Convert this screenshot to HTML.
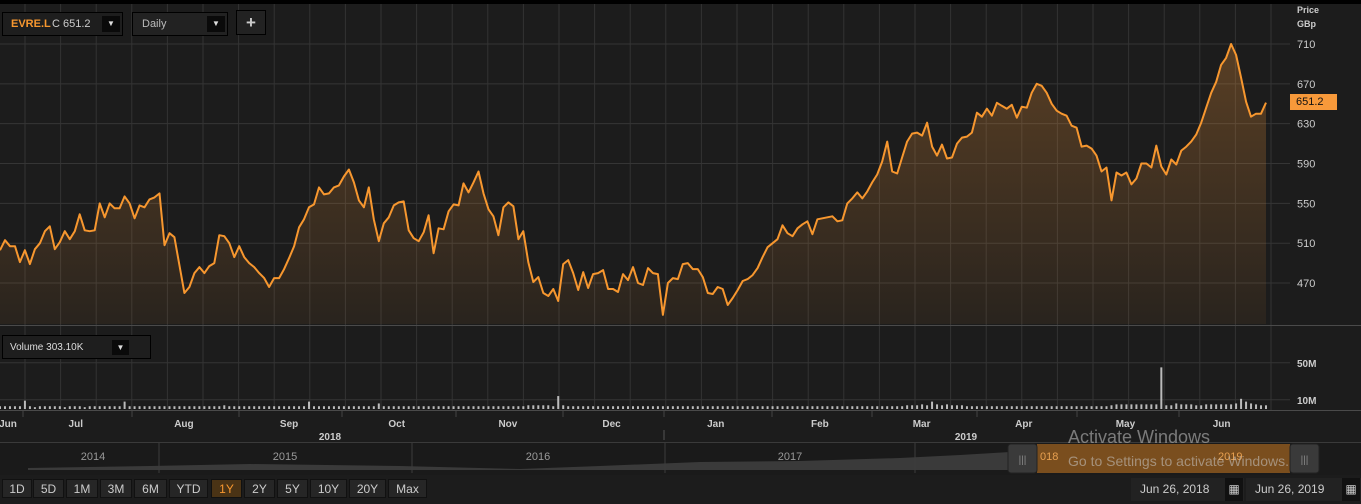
<!DOCTYPE html>
<html><head><meta charset="utf-8"><style>
body{margin:0;width:1361px;height:504px;background:#1c1c1c;overflow:hidden;font-family:"Liberation Sans",sans-serif;position:relative}
.abs{position:absolute}
.btn{position:absolute;top:479px;height:19px;background:#262626;border:1px solid #111;color:#ccc;font-size:12px;line-height:19px;text-align:center;box-sizing:border-box}
</style></head><body>
<svg class="abs" style="left:0;top:0" width="1361" height="504">
<defs><linearGradient id="fg" x1="0" y1="0" x2="0" y2="1"><stop offset="0" stop-color="#f7993a" stop-opacity="0.28"/><stop offset="1" stop-color="#f7993a" stop-opacity="0.06"/></linearGradient></defs>
<rect x="0" y="0" width="1361" height="4" fill="#000"/>
<g id="grid"></g>
<path id="area" fill="url(#fg)"/>
<path id="line" fill="none" stroke="#f7972f" stroke-width="2" stroke-linejoin="round"/>
<g id="vol"></g>
<line x1="0" y1="325.5" x2="1361" y2="325.5" stroke="#4a4a4a"/>
<line x1="0" y1="410.5" x2="1361" y2="410.5" stroke="#4a4a4a"/>
<line x1="0" y1="442.5" x2="1361" y2="442.5" stroke="#3a3a3a"/>
<rect x="0" y="443" width="1361" height="32" fill="#1a1a1a"/>
<g id="axis" font-size="10" fill="#ccc" font-weight="bold"></g>
</svg>
<div class="abs" style="left:2px;top:12px;width:121px;height:24px;border:1px solid #000;background:#1e1e1e;box-sizing:border-box">
<span class="abs" style="left:8px;top:5px;font-size:11px;color:#f7972f;font-weight:bold">EVRE.L</span>
<span class="abs" style="left:49px;top:5px;font-size:11px;color:#ccc">C 651.2</span>
<div class="abs" style="left:99px;top:3px;width:18px;height:16px;background:#0a0a0a;color:#ddd;font-size:8px;text-align:center;line-height:16px">▼</div></div>
<div class="abs" style="left:132px;top:12px;width:96px;height:24px;border:1px solid #000;background:#222;box-sizing:border-box">
<span class="abs" style="left:9px;top:5px;font-size:11px;color:#bbb">Daily</span>
<div class="abs" style="left:74px;top:3px;width:18px;height:16px;background:#0a0a0a;color:#ddd;font-size:8px;text-align:center;line-height:16px">▼</div></div>
<div class="abs" style="left:236px;top:10px;width:30px;height:25px;border:1px solid #000;background:#222;box-sizing:border-box;color:#ccc;font-size:17px;font-weight:bold;text-align:center;line-height:23px">+</div>
<div class="abs" style="left:1297px;top:3px;font-size:9px;color:#ccc;font-weight:bold;line-height:14px">Price<br>GBp</div>
<div class="abs" style="left:1290px;top:94px;width:47px;height:16px;background:#f7993a;color:#111;font-size:11px;line-height:16px;text-indent:6px">651.2</div>
<div class="abs" style="left:2px;top:335px;width:149px;height:24px;border:1px solid #000;background:#1e1e1e;box-sizing:border-box">
<span class="abs" style="left:7px;top:6px;font-size:10px;color:#ddd">Volume 303.10K</span>
<div class="abs" style="left:109px;top:4px;width:17px;height:15px;background:#0a0a0a;color:#ddd;font-size:8px;text-align:center;line-height:15px">▼</div></div>
<div class="btn" style="left:2px;width:30px">1D</div>
<div class="btn" style="left:33px;width:31px">5D</div>
<div class="btn" style="left:66px;width:32px">1M</div>
<div class="btn" style="left:100px;width:32px">3M</div>
<div class="btn" style="left:134px;width:33px">6M</div>
<div class="btn" style="left:169px;width:39px">YTD</div>
<div class="btn" style="left:211px;width:31px;background:#4a3315;color:#f7972f">1Y</div>
<div class="btn" style="left:244px;width:31px">2Y</div>
<div class="btn" style="left:277px;width:31px">5Y</div>
<div class="btn" style="left:310px;width:37px">10Y</div>
<div class="btn" style="left:349px;width:37px">20Y</div>
<div class="btn" style="left:388px;width:39px">Max</div>
<div class="abs" style="left:1131px;top:478px;width:113px;height:23px;background:#222;color:#ccc;font-size:12px;line-height:23px"><span style="margin-left:9px">Jun 26, 2018</span><span class="abs" style="left:94px;top:0;width:18px;height:23px;background:#111;text-align:center;font-size:12px">▦</span></div>
<div class="abs" style="left:1246px;top:478px;width:115px;height:23px;background:#222;color:#ccc;font-size:12px;line-height:23px"><span style="margin-left:9px">Jun 26, 2019</span><span class="abs" style="left:96px;top:0;width:18px;height:23px;background:#111;text-align:center;font-size:12px">▦</span></div>
<div class="abs" style="left:1068px;top:427px;font-size:18px;color:rgba(200,200,200,0.55)">Activate Windows</div>
<div class="abs" style="left:1068px;top:453px;font-size:14px;color:rgba(200,200,200,0.55)">Go to Settings to activate Windows.</div>
<script>
const prices=[503,513,507,507,491,503,489,504,510,522,527,504,511,522,514,522,539,523,522,523,550,536,550,545,545,557,550,535,548,546,554,556,560,508,520,516,488,460,466,480,486,480,487,490,518,517,510,496,507,496,490,486,480,475,466,475,475,484,495,507,526,534,546,549,566,559,560,566,568,577,584,571,553,546,566,534,512,530,536,548,551,552,523,515,512,
521,538,500,525,524,542,549,548,570,561,571,582,560,544,537,518,546,551,547,514,522,491,471,476,460,457,464,452,489,493,480,463,481,465,479,480,483,464,464,461,479,473,486,470,468,485,480,479,438,470,475,474,489,490,484,484,476,460,459,466,464,448,455,463,472,474,478,485,496,506,510,514,528,520,517,525,529,532,519,534,535,536,537,532,
533,550,555,561,555,562,571,579,592,612,582,580,596,612,620,621,618,631,607,598,609,595,596,610,616,617,621,641,637,645,638,651,648,645,649,636,647,646,661,670,668,661,650,643,640,638,628,626,607,608,605,598,582,586,553,581,578,581,569,575,590,590,586,608,587,579,594,589,603,607,612,619,631,646,661,672,689,696,710,699,676,652,637,640,640,651.2];
const volumes=[3,3,3,3,3,9,3,2,3,3,3,3,3,2,3,3,3,2,3,3,
3,3,3,3,3,8,3,3,3,3,3,3,3,3,3,3,3,3,3,3,
3,3,3,3,3,4,3,3,3,3,3,3,3,3,3,3,3,3,3,3,
3,3,8,3,3,3,3,3,3,3,3,3,3,3,3,3,6,3,3,3,
3,3,3,3,3,3,3,3,3,3,3,3,3,3,3,3,3,3,3,3,
3,3,3,3,3,3,4,4,4,4,4,3,14,4,3,3,3,3,3,3,
3,3,3,3,3,3,3,3,3,3,3,3,3,3,3,3,3,3,3,3,
3,3,3,3,3,3,3,3,3,3,3,3,3,3,3,3,3,3,3,3,
3,3,3,3,3,3,3,3,3,3,3,3,3,3,3,3,3,3,3,3,
3,3,4,4,4,5,4,8,5,4,5,4,4,4,3,3,3,3,3,3,
3,3,3,3,3,3,3,3,3,3,3,3,3,3,3,3,3,3,3,3,
3,3,3,4,5,5,5,5,5,5,5,5,5,45,4,4,6,5,5,5,
4,4,5,5,5,5,5,5,6,11,8,6,5,4,4];
const priceTicks=[710,670,630,590,550,510,470];
const volTicks=[50,10];
const months=["Jun","Jul","Aug","Sep","Oct","Nov","Dec","Jan","Feb","Mar","Apr","May","Jun"];
const monthIdx=[1.6,15.2,36.9,58,79.6,101.9,122.7,143.6,164.5,184.9,205.4,225.8,245.1];
const navYears=["2014","2015","2016","2017"];
const NS="http://www.w3.org/2000/svg";
const X0=0,X1=1266;
const xS=i=>X0+i*(X1-X0)/(prices.length-1);
const yP=v=>44+(710-v)*0.996;
const yV=v=>409-v*0.925;
function mk(tag,attrs,parent){const e=document.createElementNS(NS,tag);for(const k in attrs)e.setAttribute(k,attrs[k]);parent.appendChild(e);return e;}
const grid=document.getElementById('grid');
for(let gx=25;gx<1290;gx+=35.6){const l=mk('line',{x1:gx,y1:4,x2:gx,y2:410,stroke:'#333'},grid);

}
const ax=document.getElementById('axis');
priceTicks.forEach(t=>{const y=yP(t);mk('line',{x1:0,y1:y,x2:1290,y2:y,stroke:'#353535'},grid);
const tx=mk('text',{x:1297,y:y+4,'font-weight':'normal','font-size':'11'},ax);tx.textContent=t;

});
volTicks.forEach(t=>{const y=yV(t);mk('line',{x1:0,y1:y,x2:1290,y2:y,stroke:'#353535'},grid);
const tx=mk('text',{x:1297,y:y+4},ax);tx.textContent=t+'M';

});
let d='';prices.forEach((p,i)=>{d+=(i?'L':'M')+xS(i).toFixed(1)+' '+yP(p).toFixed(1);});
document.getElementById('line').setAttribute('d',d);
document.getElementById('area').setAttribute('d',d+'L'+xS(prices.length-1)+' 324L0 324Z');
const vg=document.getElementById('vol');
volumes.forEach((v,i)=>{const y=yV(v);const r=mk('rect',{x:xS(i)-1,y:y,width:2,height:409-y,fill:'#bbb'},vg);

});
months.forEach((m,i)=>{const x=xS(monthIdx[i]);const tx=mk('text',{x:x,y:427,'text-anchor':'middle'},ax);tx.textContent=m;

});
[23,132,239,342,456,563,664,772,872,977,1077,1179].forEach(x=>mk('line',{x1:x,y1:411,x2:x,y2:417,stroke:'#444'},ax));
mk('line',{x1:664,y1:430,x2:664,y2:440,stroke:'#555'},ax);
[["2018",330],["2019",966]].forEach(a=>{const tx=mk('text',{x:a[1],y:440,'text-anchor':'middle'},ax);tx.textContent=a[0];

});
mk('path',{d:'M28 468 L150 466 L250 464 L400 466 L520 469 L600 466 L700 462 L800 461 L900 458 L960 455 L1010 452 L1040 450 L1150 449 L1290 446 L1310 447 L1310 470 L28 470Z',fill:'#3a3a3a'},ax);
[159,412,665,915].forEach(x=>mk('line',{x1:x,y1:443,x2:x,y2:473,stroke:'#3c3c3c'},ax));
navYears.forEach((y,i)=>{const tx=mk('text',{x:[93,285,538,790][i],y:460,'text-anchor':'middle','font-weight':'normal','font-size':'11','fill':'#999'},ax);tx.textContent=y;

});
const sel=mk('rect',{x:1037,y:444,width:253,height:29,fill:'#7a4e1e'},ax);


[1008,1290].forEach(x=>{const h=mk('rect',{x:x,y:444,width:29,height:29,rx:3,fill:'#3a3a3a',stroke:'#222'},ax);


const tx=mk('text',{x:x+14.5,y:463,'text-anchor':'middle','fill':'#888','font-weight':'normal'},ax);tx.textContent='|||';});
const t1=mk('text',{x:1040,y:460,'fill':'#e8a050','font-weight':'normal','font-size':'11'},ax);t1.textContent='018';
const t2=mk('text',{x:1218,y:460,'fill':'#e8a050','font-weight':'normal','font-size':'11'},ax);t2.textContent='2019';
</script>
</body></html>
